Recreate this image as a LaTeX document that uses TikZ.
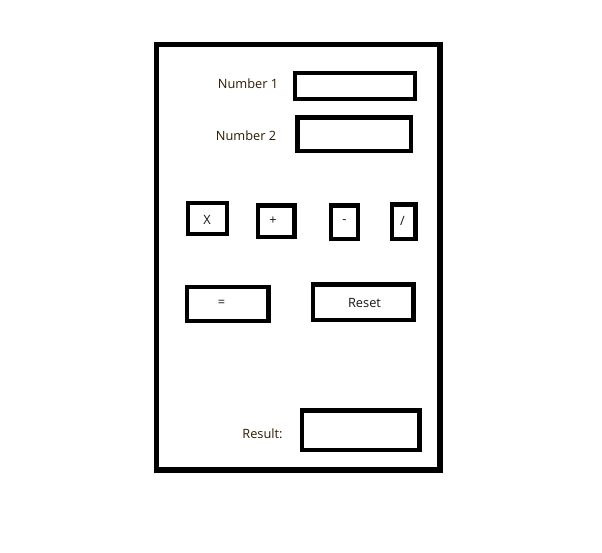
\documentclass[tikz,border=0pt]{standalone}
\usepackage{fontspec}
\setmainfont{Open Sans}
\begin{document}
\begin{tikzpicture}[x=1pt,y=-1pt,
  frame/.style={draw=black,line width=5.5pt},
  field/.style={draw=black,line width=4.3pt},
  lbl/.style={font=\fontsize{12.8}{14}\selectfont,text={rgb,255:red,45;green,28;blue,0},inner sep=0pt},
  btn/.style={font=\fontsize{12.8}{14}\selectfont,text=black!92,inner sep=0pt}]
\useasboundingbox[fill=white] (0,0) rectangle (602,553);
% outer frame
\draw[frame] (156.5,44.5) rectangle (440,470);
% input fields
\draw[field] (295,73) rectangle (415,99);
\draw[field] (297.5,117.5) rectangle (411,151);
\node[lbl] (l1) at (248,84) {Number 1};
\node[lbl] (l2) at (246,136) {Number 2};
% operator buttons
\draw[field] (188,203) rectangle (227,234);
\node[btn] (bx) at (207,219.5) {X};
\draw[field] (258,205.5) rectangle (294.5,237);
\node[btn] (bp) at (273,220.5) {+};
\draw[field] (331,205.5) rectangle (358,239);
\node[btn] (bm) at (344.5,222) {-};
\draw[field] (392,204.5) rectangle (415.5,239);
\node[btn] (bd) at (402.5,220.5) {/};
% equals and reset
\draw[field] (187,287) rectangle (268.5,321);
\node[btn] (be) at (221.5,303.5) {=};
\draw[field] (313,284.5) rectangle (413.5,320);
\node[btn] (br) at (364.5,303) {Reset};
% result
\draw[field] (302,410.5) rectangle (419.5,450);
\node[lbl] (lr) at (262.5,433.5) {Result:};
\end{tikzpicture}
\end{document}
